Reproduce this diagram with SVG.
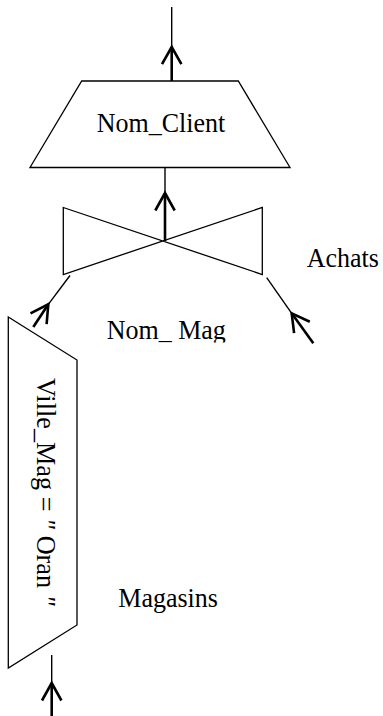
<svg xmlns="http://www.w3.org/2000/svg" width="383" height="716" viewBox="0 0 383 716">
  <style>
    .shape { fill: none; stroke: #000; stroke-width: 1.3; stroke-linejoin: miter; }
    .shaft { fill: none; stroke: #000; stroke-width: 2.6; stroke-linecap: butt; }
    .lead { fill: none; stroke: #000; stroke-width: 1.4; }
    .head { fill: none; stroke: #000; stroke-width: 2.6; stroke-linejoin: miter; stroke-linecap: butt; }
    .lbl { font-family: "Liberation Serif", "Times New Roman", serif; font-size: 26px; fill: #000; }
  </style>
  <defs>
    <clipPath id="clipMag">
      <rect x="0" y="300" width="383" height="42.5"/>
    </clipPath>
  </defs>
  <rect width="383" height="716" fill="#fff"/>

  <!-- projection on Nom_Client -->
  <g id="projection">
    <polygon class="shape" points="81.7,81 238.3,81 290,167.5 30,167.5"/>
    <text class="lbl" transform="translate(96.7,131.7) scale(1,1.08)">Nom_Client</text>
  </g>

  <!-- join on Nom_Mag -->
  <g id="join">
    <polygon class="shape" points="63.3,207.5 262.3,274.5 262.3,207.5 63.3,274.5"/>
    <text class="lbl" transform="translate(306.7,266.7) scale(1,1.08)">Achats</text>
    <g clip-path="url(#clipMag)">
      <text class="lbl" transform="translate(106.7,339.3) scale(1,1.08)">Nom_ Mag</text>
    </g>
  </g>

  <!-- selection on Magasins -->
  <g id="selection">
    <polygon class="shape" points="8.3,317 77,360 77,625 8.3,668"/>
    <text class="lbl" transform="translate(36.5,378) rotate(90) scale(1.01,1.05)">Ville_Mag = <tspan font-style="italic">"</tspan> Oran <tspan font-style="italic">"</tspan></text>
    <text class="lbl" transform="translate(118.3,606.7) scale(1,1.08)">Magasins</text>
  </g>

  <!-- data flow connectors: thick from source to arrowhead, thin onward -->
  <g id="connectors">
    <!-- projection output -->
    <line class="shaft" x1="171.7" y1="81" x2="171.7" y2="47"/>
    <line class="lead" x1="171.7" y1="47" x2="171.7" y2="7"/>
    <polyline class="head" points="162,64.2 171.7,47 181.4,64.2"/>

    <!-- join to projection -->
    <line class="shaft" x1="165" y1="241" x2="165" y2="193"/>
    <line class="lead" x1="165" y1="193" x2="165" y2="167.5"/>
    <polyline class="head" points="155.3,210.5 165,193 174.7,210.5"/>

    <!-- selection to join -->
    <line class="shaft" x1="33.3" y1="327" x2="48.3" y2="304.3"/>
    <line class="lead" x1="48.3" y1="304.3" x2="70" y2="275.5"/>
    <polyline class="head" points="30.5,313.4 48.3,304.3 46.6,324.2"/>

    <!-- Achats to join -->
    <line class="shaft" x1="313.3" y1="343.3" x2="291.7" y2="313.3"/>
    <line class="lead" x1="291.7" y1="313.3" x2="266.7" y2="277.7"/>
    <polyline class="head" points="294.1,333.2 291.7,313.3 309.8,321.8"/>

    <!-- Magasins input -->
    <line class="shaft" x1="51.7" y1="716" x2="51.7" y2="683"/>
    <line class="lead" x1="51.7" y1="683" x2="51.7" y2="655"/>
    <polyline class="head" points="42,700.5 51.7,683 61.4,700.5"/>
  </g>
</svg>
